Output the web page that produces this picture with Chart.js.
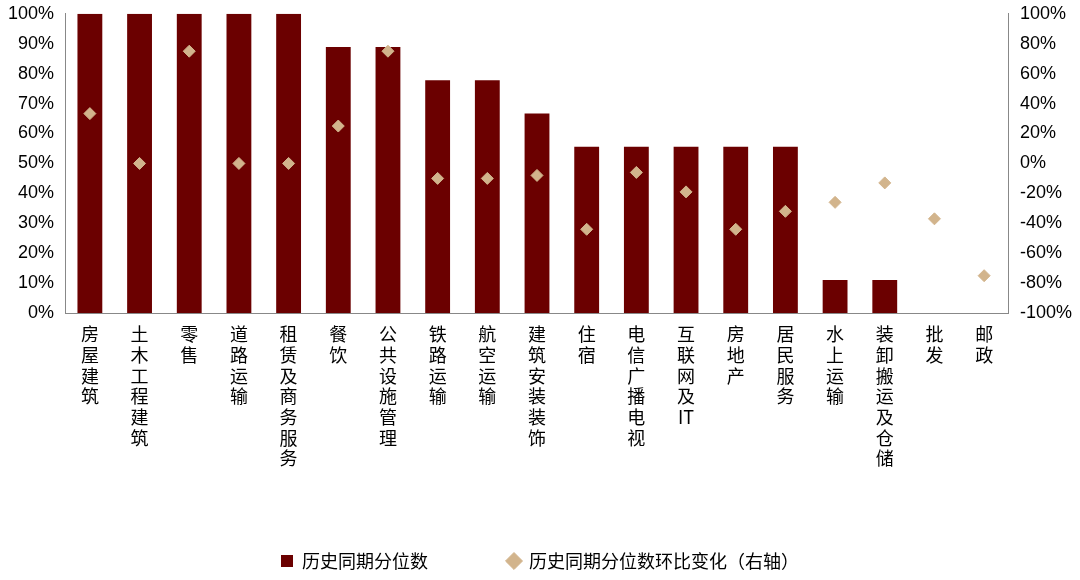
<!DOCTYPE html><html><head><meta charset="utf-8">
<script src="https://cdn.jsdelivr.net/npm/chart.js@4"></script>
<style>body{margin:0;background:#fff}</style></head><body><canvas id="c" width="1080" height="580"></canvas>
<script>
const categories=["房屋建筑","土木工程建筑","零售","道路运输","租赁及商务服务","餐饮","公共设施管理","铁路运输","航空运输","建筑安装装饰","住宿","电信广播电视","互联网及IT","房地产","居民服务","水上运输","装卸搬运及仓储","批发","邮政"];
const percentile=[100,100,100,100,100,88.9,88.9,77.8,77.8,66.7,55.6,55.6,55.6,55.6,55.6,11.1,11.1,0,0];
const change=[33.3,0,75,0,0,25,75,-10,-10,-8,-44,-6,-19,-44,-32,-26,-13,-37,-75];
const labels=categories.map(s=>s==="互联网及IT"?["互","联","网","及","IT"]:s.split(""));
const F="'Noto Sans CJK SC',sans-serif";
new Chart(document.getElementById('c'),{data:{labels,datasets:[
{type:'bar',label:'历史同期分位数',data:percentile,backgroundColor:'#6b0000',yAxisID:'y',barPercentage:0.5,categoryPercentage:1,pointStyle:'rect',order:2},
{type:'line',showLine:false,label:'历史同期分位数环比变化（右轴）',data:change,yAxisID:'y2',pointStyle:'rectRot',pointRadius:6,pointHoverRadius:6,backgroundColor:'#d2b48c',borderColor:'#d2b48c',order:1}]},
options:{responsive:false,animation:false,layout:{padding:{top:8,right:5,left:5,bottom:0}},
plugins:{tooltip:{enabled:false},legend:{position:'bottom',labels:{usePointStyle:true,boxWidth:12,boxHeight:12,padding:80,font:{family:F,size:18},color:'#000',sort:(a,b)=>a.datasetIndex-b.datasetIndex}}},
scales:{x:{type:'category',grid:{display:false},border:{color:'#888'},ticks:{color:'#000',font:{family:F,size:18,lineHeight:1.15},maxRotation:0,autoSkip:false}},
y:{min:0,max:100,position:'left',grid:{display:false},border:{color:'#888'},ticks:{stepSize:10,color:'#000',font:{family:'Liberation Sans',size:18},callback:v=>v+'%'}},
y2:{min:-100,max:100,position:'right',grid:{display:false},border:{color:'#888'},ticks:{stepSize:20,color:'#000',font:{family:'Liberation Sans',size:18},callback:v=>v+'%'}}}}});
</script></body></html>
